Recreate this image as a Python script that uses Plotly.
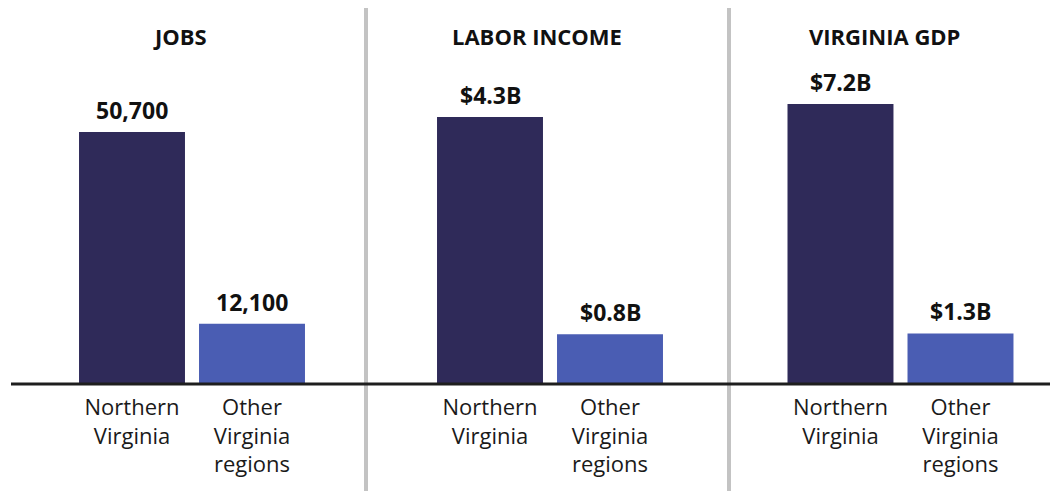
import plotly.graph_objects as go

# ---- data ----
categories = ["Northern Virginia", "Other Virginia regions"]
tick_labels = ["Northern<br>Virginia", "Other<br>Virginia<br>regions"]
panel_titles = ["JOBS", "LABOR INCOME", "VIRGINIA GDP"]
jobs = [50700, 12100]
labor_income = [4.3, 0.8]   # $ billions
gdp = [7.2, 1.3]            # $ billions

jobs_labels = [f"{v:,}" for v in jobs]
labor_labels = [f"${v}B" for v in labor_income]
gdp_labels = [f"${v}B" for v in gdp]

# ---- styling ----
W, H = 1058, 491
OFF = 8                      # page body margin
FW, FH = W - OFF, H - OFF
FONT = "Open Sans"
bar_colors = ["#2f2a59", "#4a5db3"]


def px_x(p):
    return (p - OFF) / FW


def px_y(p):
    return 1 - (p - OFF) / FH


base_px = 384
ydom = [px_y(base_px), 1]
div1, div2 = 366, 729
xdoms = [[0, px_x(div1)], [px_x(div1), px_x(div2)], [px_x(div2), 1]]
xranges = [[-1.0333, 1.95], [-1.0333, 1.9917], [-0.929, 1.8125]]
yranges = [[0, 75648], [0, 6.055], [0, 9.669]]
title_x_px = [180, 537, 884.5]
bar_width = 0.883

series = [jobs, labor_income, gdp]
labels = [jobs_labels, labor_labels, gdp_labels]

fig = go.Figure()
annotations = []
for i in range(3):
    sfx = "" if i == 0 else str(i + 1)
    fig.add_trace(go.Bar(
        x=categories, y=series[i], width=bar_width,
        marker=dict(color=bar_colors, line=dict(width=0)),
        xaxis="x" + sfx, yaxis="y" + sfx, showlegend=False,
        hoverinfo="skip",
    ))
    for c, v, t in zip(categories, series[i], labels[i]):
        annotations.append(dict(
            x=c, y=v, xref="x" + sfx, yref="y" + sfx, text=f"<b>{t}</b>",
            showarrow=False, yanchor="middle", yshift=22,
            font=dict(family=FONT, size=23, color="#111111"),
        ))
    annotations.append(dict(
        x=px_x(title_x_px[i]), y=px_y(35.5), xref="paper", yref="paper",
        text=f"<b>{panel_titles[i]}</b>", showarrow=False,
        xanchor="center", yanchor="middle",
        font=dict(family=FONT, size=22, color="#111111"),
    ))
    fig.layout["xaxis" + sfx] = dict(
        domain=xdoms[i], range=xranges[i], anchor="y" + sfx,
        type="category", tickvals=categories, ticktext=tick_labels,
        ticks="", showgrid=False, zeroline=False, showline=False,
        ticklabelstandoff=8,
        tickfont=dict(family=FONT, size=22, color="#1a1a1a"),
        fixedrange=True,
    )
    fig.layout["yaxis" + sfx] = dict(
        domain=ydom, range=yranges[i], anchor="x" + sfx,
        visible=False, showgrid=False, zeroline=False, fixedrange=True,
    )

shapes = [
    dict(type="line", xref="paper", yref="paper", x0=px_x(div1), x1=px_x(div1),
         y0=0, y1=1, line=dict(color="#c3c3c3", width=4)),
    dict(type="line", xref="paper", yref="paper", x0=px_x(div2), x1=px_x(div2),
         y0=0, y1=1, line=dict(color="#c3c3c3", width=4)),
    dict(type="line", xref="paper", yref="paper", x0=px_x(11), x1=1,
         y0=px_y(base_px), y1=px_y(base_px),
         line=dict(color="#1e1e1e", width=3)),
]

fig.update_layout(
    width=FW, height=FH,
    margin=dict(l=0, r=0, t=0, b=0),
    paper_bgcolor="white", plot_bgcolor="white",
    annotations=annotations, shapes=shapes,
)

fig.write_html("out.html", config={"displayModeBar": False})
